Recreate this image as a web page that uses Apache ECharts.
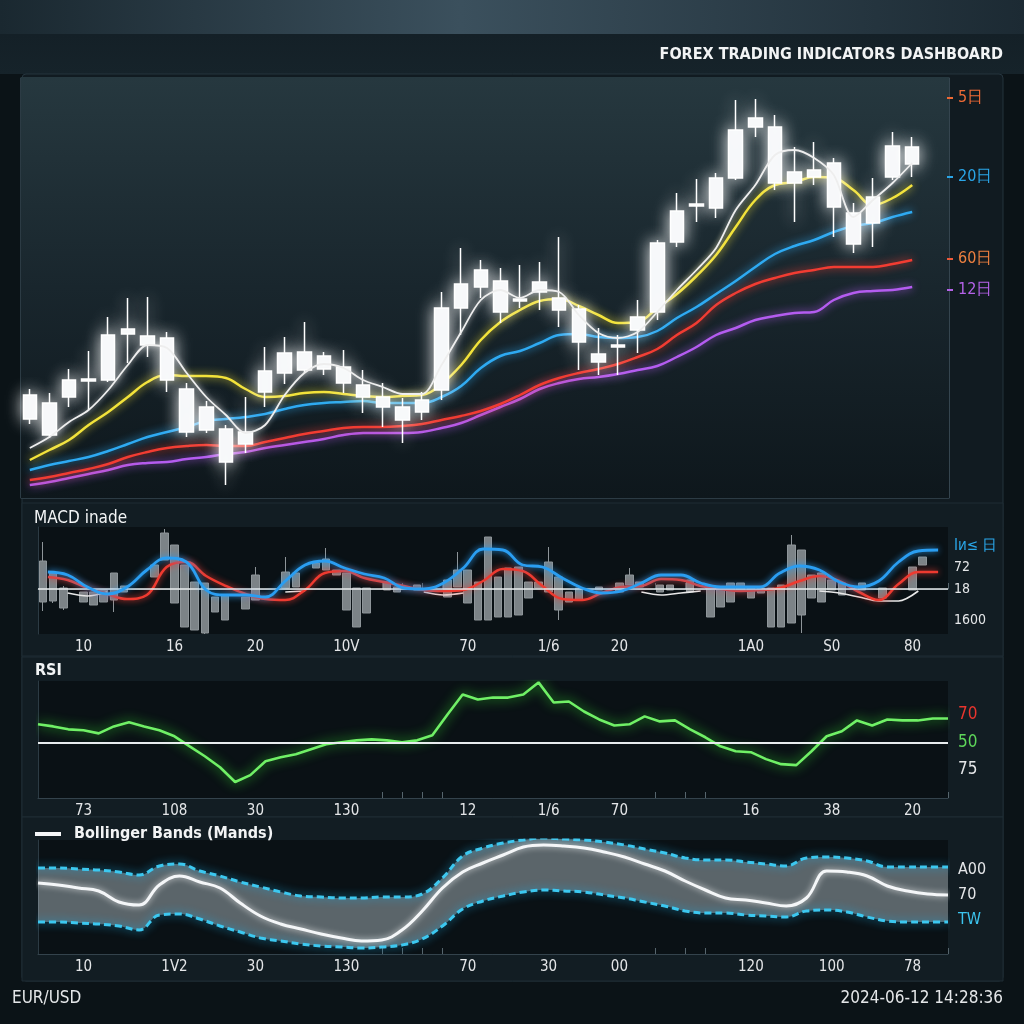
<!DOCTYPE html>
<html><head><meta charset="utf-8">
<script src="https://cdn.jsdelivr.net/npm/echarts@6.0.0/dist/echarts.min.js"></script>
<style>html,body{margin:0;padding:0;background:#0b1317}#c{width:1024px;height:1024px}</style>
</head><body><div id="c"></div>
<script>
// ---------- DATA ----------
const candleDays = ['D01','D02','D03','D04','D05','D06','D07','D08','D09','D10','D11','D12','D13','D14','D15','D16','D17','D18','D19','D20','D21','D22','D23','D24','D25','D26','D27','D28','D29','D30','D31','D32','D33','D34','D35','D36','D37','D38','D39','D40','D41','D42','D43','D44','D45','D46'];
// [open, close, low, high] (price index units)
const candles = [
 [79,103,74,109],[63,95,60,105],[101,118,91,129],[117,119,88,147],[118,163,116,181],
 [164,169,135,200],[153,162,141,201],[118,160,106,166],[66,109,61,115],[68,91,65,97],
 [36,69,13,73],[54,66,45,101],[106,127,91,151],[125,145,114,161],[128,146,125,176],
 [129,142,123,146],[115,131,105,148],[101,113,85,128],[91,101,71,115],[78,91,55,100],
 [86,98,78,106],[108,190,98,206],[190,214,163,250],[211,228,200,238],[186,217,175,230],
 [197,199,190,233],[206,216,188,236],[188,200,171,261],[156,189,128,193],[136,144,123,170],
 [151,153,123,163],[168,181,145,198],[186,255,178,258],[256,287,251,305],[292,294,276,319],
 [290,320,280,325],[320,368,318,398],[371,380,361,399],[315,371,308,383],[315,326,276,351],
 [321,328,313,356],[291,335,261,340],[254,285,245,295],[275,301,251,320],[321,352,318,366],
 [334,351,321,361]
];
const ma5   = [50,61,76,88,108,133,153,150,125,101,83,65,73,103,125,134,130,118,111,104,104,133,166,198,208,200,208,206,183,165,160,166,186,208,228,250,288,313,343,348,340,323,281,298,315,335];
const ma20  = [38,48,58,73,86,101,116,123,122,122,120,109,101,102,105,106,104,102,101,102,103,114,133,158,176,188,197,199,192,183,175,176,190,204,222,243,271,298,313,316,321,320,308,293,300,313];
const ma60  = [28,33,37,41,47,54,61,66,71,77,79,81,84,89,93,95,96,97,95,95,95,101,112,130,142,147,155,163,164,161,160,161,167,180,191,204,217,231,244,252,258,266,272,275,281,286];
const ma120 = [18,21,25,29,34,41,46,50,52,53,52,52,56,60,64,67,70,71,71,72,74,78,82,87,94,103,113,120,125,129,134,141,149,163,175,193,205,214,220,225,228,231,231,231,234,238];
const ma250 = [13,16,20,24,28,33,35,36,39,41,44,46,50,53,56,59,63,65,65,65,66,70,75,83,91,99,109,115,119,121,124,128,132,141,151,163,170,178,182,185,186,198,205,207,208,211];
const maLabels = ['5日','20日','60日','12日'];

// MACD histogram: slot positions and [open, close, low, high]
const macdHistSlots = [0,1,2,4,5,6,7,8,11,12,13,14,15,16,17,18,20,21,24,25,27,28,29,30,31,32,34,35,37,40,41,42,43,44,45,46,47,48,49,50,51,52,53,55,57,58,59,61,62,64,66,67,68,69,70,71,72,73,74,75,76,77,78,79,81,83,86,87];
const macdHistBars = [
 [-13,28,-22,47],[-12,16,-14,18],[-19,1,-21,3],[-13,-3,-13,-3],[-16,-3,-16,-3],[-13,-1,-13,-1],[-11,16,-23,16],[-3,3,-3,3],
 [12,24,12,24],[29,56,29,60],[-14,44,-14,44],[-38,24,-38,24],[-41,7,-41,7],[-44,6,-45,6],[-23,-8,-23,-8],[-31,-6,-31,-6],
 [-20,-8,-20,-8],[-11,14,-11,22],[1,17,1,32],[2,16,2,16],[21,26,21,26],[19,30,19,41],[14,19,14,19],[-21,16,-21,16],
 [-38,1,-38,1],[-24,1,-24,1],[-1,7,-1,7],[-3,2,-3,2],[-1,4,-1,4],[-8,9,-8,9],[2,19,2,37],[-14,19,-14,19],
 [-31,7,-31,7],[-31,52,-31,52],[-28,12,-28,12],[-28,21,-28,21],[-26,22,-26,22],[-9,7,-9,7],[1,7,1,7],[-3,27,-3,42],
 [-21,12,-31,12],[-13,-3,-13,-3],[-11,1,-11,1],[-1,2,-1,2],[-3,6,-3,6],[4,14,4,21],[2,7,2,7],[-3,4,-3,4],
 [-1,4,-1,4],[-3,9,-3,9],[-28,1,-28,1],[-18,1,-18,1],[-13,6,-13,6],[-1,6,-1,6],[-9,1,-9,1],[-4,1,-4,1],
 [-38,1,-38,1],[-38,4,-38,4],[-34,44,-34,54],[-26,39,-44,39],[-9,14,-9,14],[-13,16,-13,16],[-1,9,-1,9],[-6,6,-6,6],
 [-1,6,-1,6],[-9,1,-9,1],[-1,22,-1,22],[24,32,24,32]
];
const macdDif = [17,14,2,-5,2,19,31,27,-1,-6,-6,-8,8,24,28,21,15,11,1,0,6,21,40,39,24,22,11,1,-4,-2,6,14,14,6,2,2,2,16,23,19,7,2,8,27,38,39];
const macdDea = [12,9,1,-5,-10,-6,22,27,13,3,-5,-10,-11,-1,16,18,11,7,3,-1,-2,-1,8,20,18,3,-10,-11,-4,2,3,10,9,3,0,-2,-1,1,8,13,8,-3,-11,5,17,17];
const macdSig = [null,-4,-7,-3,null,null,null,null,null,null,null,null,-3,-2,null,null,null,null,null,-3,-6,-4,null,null,null,null,null,null,null,null,-3,-6,-4,-2,null,null,null,null,null,-2,-4,-8,-12,-12,-2,null];

// RSI
const rsiPoints = ['R00','R01','R02','R03','R04','R05','R06','R07','R08','R09','R10','R11','R12','R13','R14','R15','R16','R17','R18','R19','R20','R21','R22','R23','R24','R25','R26','R27','R28','R29','R30','R31','R32','R33','R34','R35','R36','R37','R38','R39','R40','R41','R42','R43','R44','R45','R46','R47','R48','R49','R50','R51','R52','R53','R54','R55','R56','R57','R58','R59','R60'];
const rsi = [62.9,61.4,59.3,58.6,56.4,61.4,64.3,61.4,58.6,54.3,47.1,40,32.1,21.5,26.4,36.4,39.3,41.4,45,48.6,50,51.4,52.1,51.4,50,51.4,55,70,84.3,80.7,82.1,82.1,84.3,93,78.6,79.3,72.1,66.4,62.1,62.9,68.6,65,65.7,59.3,53.6,47.1,43.6,42.9,37.9,34.3,33.6,43.6,54.3,57.9,65.7,62.1,66.4,65.7,65.7,67.1,67.1];

// Bollinger Bands
const bbUpper  = [86,86,85,84,82,79,88,90,83,78,72,67,62,58,57,56,56,57,57,60,76,98,106,111,114,116,115,114,112,109,105,101,96,94,94,92,90,88,96,97,96,93,87,87,87,87];
const bbMiddle = [71,69,66,63,52,49,69,78,72,66,51,38,30,25,20,16,13,14,24,43,66,82,91,99,107,109,108,106,102,97,90,83,73,64,56,54,51,48,56,83,82,78,68,63,60,59];
const bbLower  = [32,32,31,30,28,24,39,40,35,28,22,16,13,10,8,7,6,7,9,15,28,45,53,58,62,64,63,62,59,56,52,48,43,41,41,39,38,37,43,44,42,37,33,32,32,32];

// Tick labels of the three lower panels
const tickSlots = [4,13,21,30,42,50,57,70,78,86];
const minorTickSlots = [34,36,38,40,61,64,66];
const macdTickLabels = ['10','16','20','10V','70','1/6','20','1A0','S0','80'];
const rsiTickLabels  = ['73','108','30','130','12','1/6','70','16','38','20'];
const bbTickLabels   = ['10','1V2','30','130','70','30','00','120','100','78'];

// ---------- CHART ----------
const FONT = "'Liberation Sans Narrow','DejaVu Sans Condensed',Roboto,sans-serif";
const slotCats = Array.from({length: 90}, (_, i) => 's' + i);
function labelMap(labels){ const m = {}; tickSlots.forEach((s, i) => m[s] = labels[i]); return m; }
function slotAxis(gridIndex, labels){
  const m = labelMap(labels);
  return {
    type:'category', gridIndex, data: slotCats, boundaryGap:true,
    axisLine:{show:true, lineStyle:{color:'#34434c', width:1}},
    axisTick:{show:true, interval:(i)=>minorTickSlots.includes(i), length:6, inside:true, lineStyle:{color:'#56656d'}},
    axisLabel:{show:true, interval:0, margin:6, color:'#e4e6e8', fontSize:15, fontFamily:FONT,
      formatter:(v, i)=> m[i] || ''},
    splitLine:{show:false}
  };
}
function hiddenCat(gridIndex, data, gap){
  return {type:'category', gridIndex, data, boundaryGap:gap, show:false};
}
const glow = (c, b) => ({shadowBlur:b, shadowColor:c});

const macdHistData = macdHistSlots.map((s, i) => [s].concat(macdHistBars[i]));
const bbBand = bbUpper.map((u, i) => u - bbLower[i]);

const W = 1024;
const graphic = [
  // backgrounds
  {type:'rect', z:-100, shape:{x:0,y:0,width:W,height:34}, style:{fill:{type:'linear',x:0,y:0,x2:1,y2:0,colorStops:[{offset:0,color:'#1a2830'},{offset:0.45,color:'#3b505d'},{offset:1,color:'#1c2a33'}]}}},
  {type:'rect', z:-99, shape:{x:0,y:34,width:W,height:40}, style:{fill:{type:'linear',x:0,y:0,x2:0,y2:1,colorStops:[{offset:0,color:'#142027'},{offset:1,color:'#16232a'}]}}},
  {type:'rect', z:-98, shape:{x:22,y:74,width:981,height:907,r:4}, style:{fill:'#111b21', stroke:'#25343d', lineWidth:1}},
  {type:'rect', z:-97, shape:{x:21,y:77,width:928,height:421}, style:{fill:{type:'linear',x:0,y:0,x2:0,y2:1,colorStops:[{offset:0,color:'#26383f'},{offset:0.5,color:'#19262d'},{offset:1,color:'#0e171c'}]}}},
  {type:'line', z:-90, shape:{x1:21,y1:498.5,x2:949,y2:498.5}, style:{stroke:'#2c3b44', lineWidth:1}},
  {type:'rect', z:-97, shape:{x:22,y:503,width:981,height:153}, style:{fill:'#121d23', stroke:'#1f2d35', lineWidth:1}},
  {type:'rect', z:-97, shape:{x:22,y:657,width:981,height:160}, style:{fill:'#121d23', stroke:'#1f2d35', lineWidth:1}},
  {type:'rect', z:-97, shape:{x:22,y:817,width:981,height:164}, style:{fill:'#121d23', stroke:'#1f2d35', lineWidth:1}},
  {type:'rect', z:-96, shape:{x:38,y:527,width:910,height:107}, style:{fill:'#0a1115'}},
  {type:'rect', z:-96, shape:{x:38,y:681,width:910,height:117}, style:{fill:'#0a1115'}},
  {type:'rect', z:-96, shape:{x:38,y:840,width:910,height:114}, style:{fill:'#0a1115'}},
  // moving-average labels on the right of the main chart
  {type:'rect', z:50, shape:{x:947,y:97,width:6,height:2}, style:{fill:'#ee6a35'}},
  {type:'text', z:50, x:958, y:98, style:{text:maLabels[0], fill:'#ee6a35', font:'16px '+FONT, verticalAlign:'middle'}},
  {type:'rect', z:50, shape:{x:947,y:176,width:6,height:2}, style:{fill:'#2aa6e8'}},
  {type:'text', z:50, x:958, y:177, style:{text:maLabels[1], fill:'#2aa6e8', font:'16px '+FONT, verticalAlign:'middle'}},
  {type:'rect', z:50, shape:{x:947,y:258,width:6,height:2}, style:{fill:'#ee5a3a'}},
  {type:'text', z:50, x:958, y:259, style:{text:maLabels[2], fill:'#ee8040', font:'16px '+FONT, verticalAlign:'middle'}},
  {type:'rect', z:50, shape:{x:947,y:289,width:6,height:2}, style:{fill:'#b462e8'}},
  {type:'text', z:50, x:958, y:290, style:{text:maLabels[3], fill:'#b462e8', font:'16px '+FONT, verticalAlign:'middle'}},
  // MACD right labels
  {type:'text', z:50, x:954, y:546, style:{text:'Iи≤ 日', fill:'#2aa6e8', font:'15px '+FONT, verticalAlign:'middle'}},
  {type:'text', z:50, x:954, y:567, style:{text:'72', fill:'#e4e6e8', font:'14px '+FONT, verticalAlign:'middle'}},
  {type:'text', z:50, x:954, y:589, style:{text:'18', fill:'#e4e6e8', font:'14px '+FONT, verticalAlign:'middle'}},
  {type:'text', z:50, x:954, y:620, style:{text:'1600', fill:'#e4e6e8', font:'14px '+FONT, verticalAlign:'middle'}},
  // RSI right labels
  {type:'text', z:50, x:958, y:715, style:{text:'70', fill:'#e8352e', font:'17px '+FONT, verticalAlign:'middle'}},
  {type:'text', z:50, x:958, y:743, style:{text:'50', fill:'#5ed65a', font:'17px '+FONT, verticalAlign:'middle'}},
  {type:'text', z:50, x:958, y:770, style:{text:'75', fill:'#e4e6e8', font:'17px '+FONT, verticalAlign:'middle'}},
  // BB right labels
  {type:'text', z:50, x:958, y:870, style:{text:'A00', fill:'#e4e6e8', font:'16px '+FONT, verticalAlign:'middle'}},
  {type:'text', z:50, x:958, y:895, style:{text:'70', fill:'#e4e6e8', font:'16px '+FONT, verticalAlign:'middle'}},
  {type:'text', z:50, x:958, y:920, style:{text:'TW', fill:'#3cc4ee', font:'16px '+FONT, verticalAlign:'middle'}}
];

const option = {
  animation:false,
  backgroundColor:'#0b1317',
  textStyle:{fontFamily:FONT},
  title:[
    {text:'FOREX TRADING INDICATORS DASHBOARD', right:21, top:47, padding:0, textStyle:{color:'#f2f4f5', fontSize:16, fontWeight:'bold', fontFamily:FONT}},
    {text:'MACD inade', left:34, top:510, padding:0, textStyle:{color:'#f2f4f5', fontSize:17, fontWeight:'normal', fontFamily:FONT}},
    {text:'RSI', left:35, top:663, padding:0, textStyle:{color:'#f2f4f5', fontSize:16, fontWeight:'bold', fontFamily:FONT}},
    {text:'EUR/USD', left:12, top:990, padding:0, textStyle:{color:'#e4e6e8', fontSize:17, fontWeight:'normal', fontFamily:FONT}},
    {text:'2024-06-12 14:28:36', right:21, top:990, padding:0, textStyle:{color:'#e4e6e8', fontSize:17, fontWeight:'normal', fontFamily:FONT}}
  ],
  legend:{data:['Bollinger Bands (Mands)'], left:30, top:821, icon:'rect', itemWidth:26, itemHeight:4,
    textStyle:{color:'#f2f4f5', fontSize:16, fontWeight:'bold', fontFamily:FONT, padding:[0,0,0,8]}},
  graphic,
  grid:[
    {left:20, top:78, width:902, height:420},
    {left:38, top:527, width:910, height:107},
    {left:38, top:681, width:910, height:117},
    {left:38, top:840, width:910, height:114}
  ],
  xAxis:[
    {type:'category', gridIndex:0, data:candleDays, boundaryGap:true,
      axisLine:{show:false}, axisTick:{show:false}, axisLabel:{show:false}},
    slotAxis(1, macdTickLabels),
    hiddenCat(1, candleDays, true),
    slotAxis(2, rsiTickLabels),
    hiddenCat(2, rsiPoints, false),
    slotAxis(3, bbTickLabels),
    hiddenCat(3, candleDays, false)
  ],
  yAxis:[
    {type:'value', gridIndex:0, min:0, max:420, axisLine:{show:true, lineStyle:{color:'#2c3b44'}}, axisLabel:{show:false}, axisTick:{show:false}, splitLine:{show:false}},
    {type:'value', gridIndex:0, min:0, max:420, position:'right', offset:27, axisLine:{show:true, lineStyle:{color:'#35454f'}}, axisLabel:{show:false}, axisTick:{show:false}, splitLine:{show:false}},
    {type:'value', gridIndex:1, min:-45, max:62, axisLine:{show:true, lineStyle:{color:'#2c3b44'}}, axisLabel:{show:false}, axisTick:{show:false}, splitLine:{show:false}},
    {type:'value', gridIndex:2, min:10, max:94, axisLine:{show:true, lineStyle:{color:'#2c3b44'}}, axisLabel:{show:false}, axisTick:{show:false}, splitLine:{show:false}},
    {type:'value', gridIndex:3, min:0, max:114, axisLine:{show:true, lineStyle:{color:'#2c3b44'}}, axisLabel:{show:false}, axisTick:{show:false}, splitLine:{show:false}}
  ],
  series:[
    // main moving averages
    {name:'MA250', type:'line', xAxisIndex:0, yAxisIndex:0, data:ma250, smooth:0.4, symbol:'none', z:2,
      lineStyle:Object.assign({color:'#b45cf0', width:2.5}, glow('#b45cf0', 8))},
    {name:'MA120', type:'line', xAxisIndex:0, yAxisIndex:0, data:ma120, smooth:0.4, symbol:'none', z:2,
      lineStyle:Object.assign({color:'#f23c32', width:2.5}, glow('#f23c32', 8))},
    {name:'MA60', type:'line', xAxisIndex:0, yAxisIndex:0, data:ma60, smooth:0.4, symbol:'none', z:2,
      lineStyle:Object.assign({color:'#2eaaf2', width:2.5}, glow('#2eaaf2', 8))},
    {name:'MA20', type:'line', xAxisIndex:0, yAxisIndex:0, data:ma20, smooth:0.4, symbol:'none', z:2,
      lineStyle:Object.assign({color:'#f2e23a', width:2.5}, glow('#f2e23a', 8))},
    {name:'MA5', type:'line', xAxisIndex:0, yAxisIndex:0, data:ma5, smooth:0.3, symbol:'none', z:4,
      lineStyle:Object.assign({color:'#eeeeee', width:1.8}, glow('rgba(255,255,255,0.7)', 5))},
    {name:'EUR/USD', type:'candlestick', xAxisIndex:0, yAxisIndex:0, data:candles, barWidth:14, z:3,
      itemStyle:{color:'#f6f8fa', color0:'#f6f8fa', borderColor:'#ffffff', borderColor0:'#ffffff', borderWidth:1.5,
        shadowBlur:16, shadowColor:'rgba(255,255,255,0.9)'}},
    // MACD
    {name:'MACD Hist', type:'candlestick', xAxisIndex:1, yAxisIndex:2, data:macdHistData, encode:{x:0, y:[1,2,3,4]}, barWidth:8, z:2,
      itemStyle:{color:'#7c8387', color0:'#7c8387', borderColor:'#8e9599', borderColor0:'#8e9599', borderWidth:1}},
    {name:'MACD Signal', type:'line', xAxisIndex:2, yAxisIndex:2, data:macdSig, smooth:0.3, symbol:'none', z:3, connectNulls:false,
      lineStyle:{color:'#e8e8e8', width:1.6}},
    {name:'DEA', type:'line', xAxisIndex:2, yAxisIndex:2, data:macdDea, smooth:0.4, symbol:'none', z:4,
      lineStyle:Object.assign({color:'#ee3a30', width:2.5}, glow('#ee3a30', 6))},
    {name:'DIF', type:'line', xAxisIndex:2, yAxisIndex:2, data:macdDif, smooth:0.4, symbol:'none', z:5,
      lineStyle:Object.assign({color:'#2a9ef2', width:2.8}, glow('#2a9ef2', 6)),
      markLine:{silent:true, symbol:'none', label:{show:false}, data:[{yAxis:0}], lineStyle:{color:'#e8ecee', width:1.6, type:'solid'}}},
    // RSI
    {name:'RSI', type:'line', xAxisIndex:4, yAxisIndex:3, data:rsi, symbol:'none', z:4,
      lineStyle:Object.assign({color:'#70f066', width:2.6}, glow('#34d82e', 12)),
      markLine:{silent:true, symbol:'none', label:{show:false}, data:[{yAxis:50}], lineStyle:{color:'#e8ecee', width:2, type:'solid'}}},
    // Bollinger bands
    {name:'BB base', type:'line', xAxisIndex:6, yAxisIndex:4, data:bbLower, stack:'bb', smooth:0.4, symbol:'none', z:2,
      lineStyle:{opacity:0}},
    {name:'BB band', type:'line', xAxisIndex:6, yAxisIndex:4, data:bbBand, stack:'bb', smooth:0.4, symbol:'none', z:2,
      lineStyle:{opacity:0}, areaStyle:{color:'rgba(160,172,178,0.78)'}},
    {name:'Upper', type:'line', xAxisIndex:6, yAxisIndex:4, data:bbUpper, smooth:0.4, symbol:'none', z:4,
      lineStyle:Object.assign({color:'#3cc8f0', width:3, type:[7,4]}, glow('#1aa8e0', 8))},
    {name:'Lower', type:'line', xAxisIndex:6, yAxisIndex:4, data:bbLower, smooth:0.4, symbol:'none', z:4,
      lineStyle:Object.assign({color:'#3cc8f0', width:3, type:[7,4]}, glow('#1aa8e0', 8))},
    {name:'Bollinger Bands (Mands)', type:'line', xAxisIndex:6, yAxisIndex:4, data:bbMiddle, smooth:0.4, symbol:'none', z:5,
      itemStyle:{color:'#f4f6f8'},
      lineStyle:Object.assign({color:'#f4f6f8', width:3}, glow('rgba(255,255,255,0.8)', 6))}
  ]
};
const chart = echarts.init(document.getElementById('c'), null, {renderer:'canvas', width:1024, height:1024});
chart.setOption(option);
</script>
</body></html>
